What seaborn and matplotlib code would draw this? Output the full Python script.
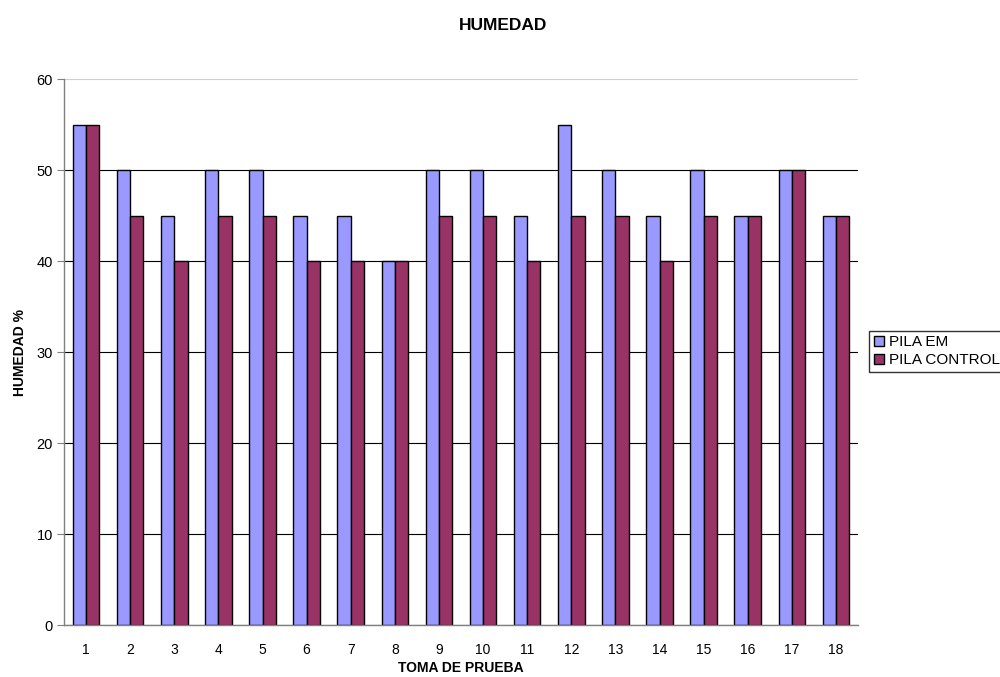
import matplotlib
matplotlib.use('Agg')
import matplotlib.pyplot as plt
import pandas as pd
import seaborn as sns
import numpy as np

tomas = [str(i) for i in range(1, 19)]
pila_em = [55, 50, 45, 50, 50, 45, 45, 40, 50, 50, 45, 55, 50, 45, 50, 45, 50, 45]
pila_control = [55, 45, 40, 45, 45, 40, 40, 40, 45, 45, 40, 45, 45, 40, 45, 45, 50, 45]
series = ['PILA EM', 'PILA CONTROL']
colores = ['#9999FF', '#993366']

df = pd.DataFrame({'toma': tomas * 2,
                   'valor': pila_em + pila_control,
                   'serie': [series[0]] * 18 + [series[1]] * 18})

sns.set_style('white')
plt.rcParams['font.family'] = ['Liberation Sans', 'DejaVu Sans']
plt.rcParams['text.color'] = 'black'
plt.rcParams['axes.labelcolor'] = 'black'
plt.rcParams['xtick.labelcolor'] = 'black'
plt.rcParams['ytick.labelcolor'] = 'black'

fig = plt.figure(figsize=(10, 6.77), dpi=100)
ax = fig.add_axes([0.064, 0.0768, 0.794, 0.8065])

sns.barplot(data=df, x='toma', y='valor', hue='serie', order=tomas,
            hue_order=series, palette=colores, width=0.6,
            edgecolor='black', linewidth=1, saturation=1, ax=ax, legend=False)

ax.set_ylim(0, 60)
ax.set_xlim(-0.5, 17.5)
ax.set_yticks(range(0, 61, 10))
ax.yaxis.grid(True, color='black', linewidth=0.8)
ax.set_axisbelow(True)
ax.yaxis.get_gridlines()[-1].set_color('#d0d0d0')
for s in ['top', 'right']:
    ax.spines[s].set_visible(False)
for s in ['left', 'bottom']:
    ax.spines[s].set_color('#808080')
    ax.spines[s].set_linewidth(1)

ax.set_xticks(np.arange(-0.5, 18, 1), minor=True)
ax.tick_params(axis='x', which='major', length=0, pad=13, labelsize=10, labelcolor='black')
ax.tick_params(axis='x', which='minor', length=5, direction='out', color='#808080')
ax.tick_params(axis='y', length=5, direction='out', color='#808080', labelsize=10.5,
               left=True, pad=3, labelcolor='black')

ax.set_xlabel('TOMA DE PRUEBA', fontsize=10, fontweight='bold', labelpad=3, color='black')
ax.set_ylabel('HUMEDAD %', fontsize=10, fontweight='bold', labelpad=7, color='black')
fig.suptitle('HUMEDAD', x=0.503, y=0.963, va='center', fontsize=12.5,
             fontweight='bold', color='black')

handles = [plt.Rectangle((0, 0), 1, 1, facecolor=c, edgecolor='black', linewidth=1)
           for c in colores]
leg = fig.legend(handles, series, loc='center left', bbox_to_anchor=(0.869, 0.481),
                 fontsize=11, frameon=True, fancybox=False, edgecolor='black',
                 handlelength=0.7, handleheight=0.7, handletextpad=0.3,
                 borderpad=0.3, labelspacing=0.25, borderaxespad=0)
leg.get_frame().set_linewidth(1)
for t in leg.get_texts():
    t.set_color('black')

fig.savefig('out.png', dpi=100)
